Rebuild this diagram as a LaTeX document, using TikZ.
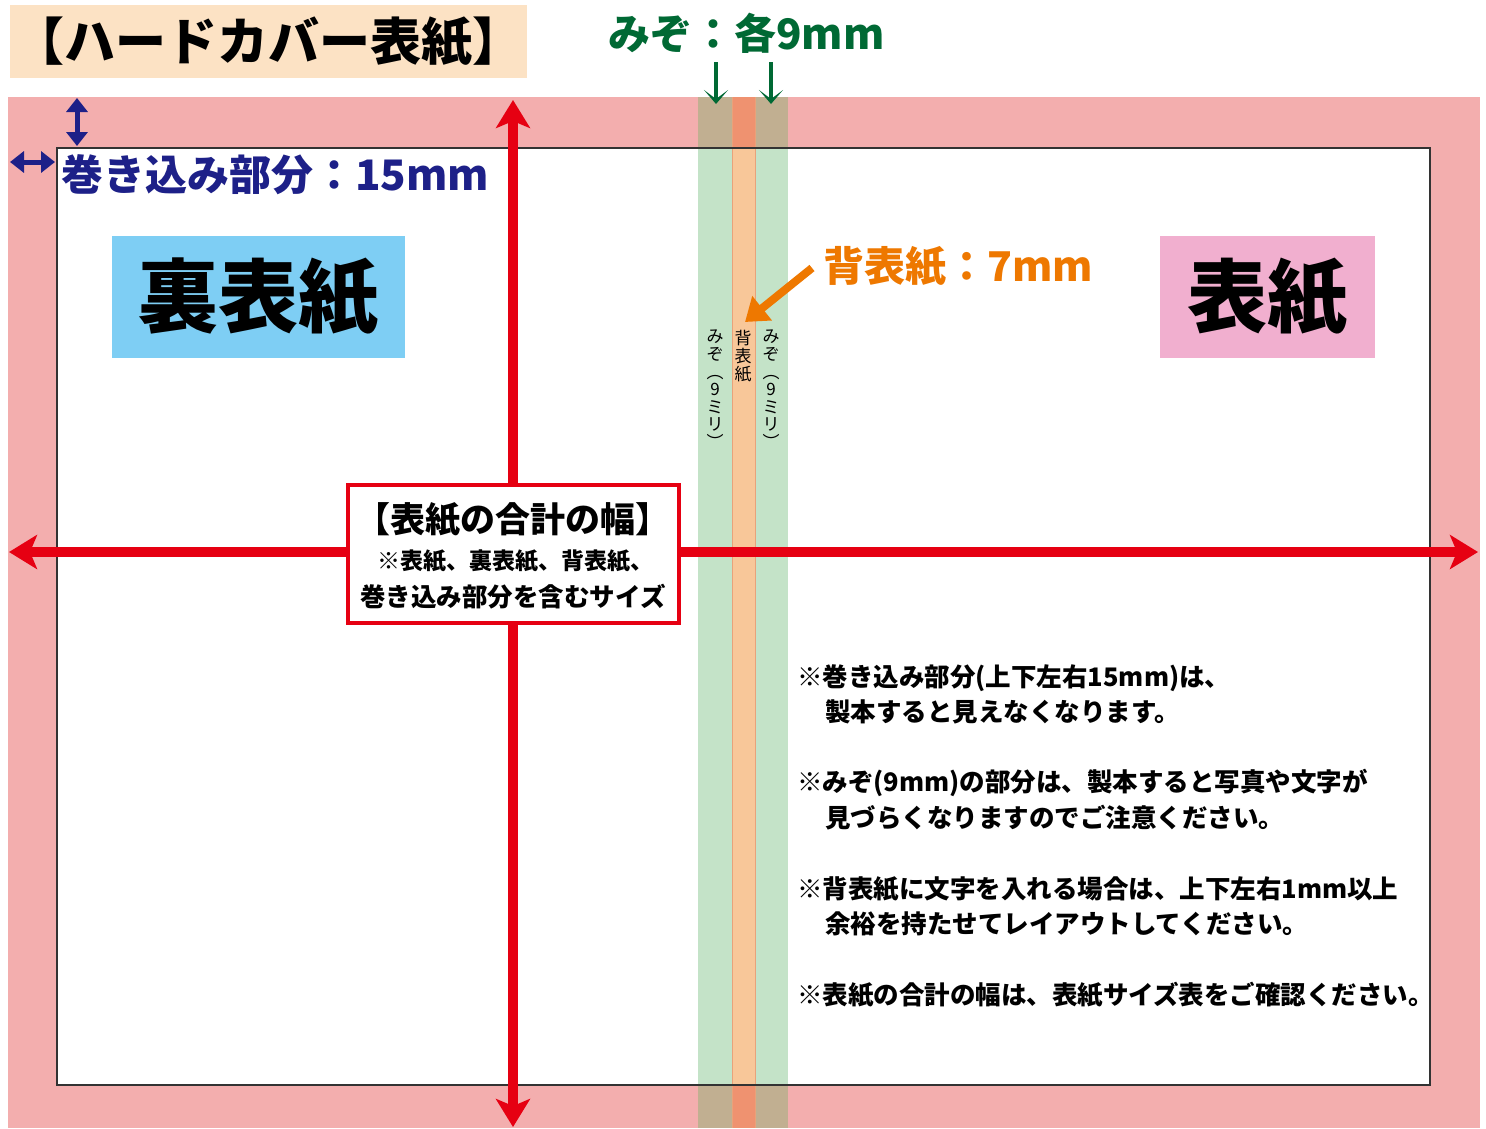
\documentclass[tikz,border=0pt]{standalone}
\usepackage{fontspec}
\newfontfamily\jp{Noto Sans CJK JP}
\usetikzlibrary{arrows.meta}
\definecolor{wrapc}{HTML}{F3AEAE}
\definecolor{mizoc}{HTML}{C4E3C8}
\definecolor{mizodark}{HTML}{C1AF91}
\definecolor{spinec}{HTML}{F8C799}
\definecolor{spinedark}{HTML}{EF9270}
\definecolor{spineedge}{HTML}{E9A27A}
\definecolor{redc}{HTML}{E60012}
\definecolor{navyc}{HTML}{1D2088}
\definecolor{greenc}{HTML}{006934}
\definecolor{orangec}{HTML}{EE7800}
\definecolor{bluebox}{HTML}{7ECEF4}
\definecolor{pinkbox}{HTML}{F1AFCF}
\definecolor{peach}{HTML}{FCE2C4}
\newcommand\jfs[1]{\fontsize{#1}{#1}\selectfont}
\tikzset{
  txt/.style={inner sep=0pt, font=\jp},
  redarrow/.style={draw=redc, line width=10pt, -{Stealth[length=28pt,width=34pt,inset=7pt]}},
  bluearrow/.style={draw=navyc, line width=5pt, {Triangle[length=14pt,width=21pt]}-{Triangle[length=14pt,width=21pt]}},
  greenarrow/.style={draw=greenc, line width=4pt, -{Stealth[length=14pt,width=24pt,inset=9pt]}},
  vtext/.style={txt, align=center, anchor=north},
  note/.style={txt, anchor=west, font=\jp\bfseries\jfs{25.5}},
}
\begin{document}
\begin{tikzpicture}[x=1pt,y=-1pt]
\useasboundingbox (0,0) rectangle (1486,1128);
% wrap area and page
\fill[wrapc] (8,97) rectangle (1480,1128);
\fill[white] (57,148) rectangle (1430,1085);
% gutters and spine
\fill[mizoc] (698,148) rectangle (732,1085);
\fill[mizoc] (755,148) rectangle (788,1085);
\fill[spinec] (732,148) rectangle (755,1085);
\fill[mizodark] (698,97) rectangle (732,148);
\fill[mizodark] (755,97) rectangle (788,148);
\fill[mizodark] (698,1085) rectangle (732,1128);
\fill[mizodark] (755,1085) rectangle (788,1128);
\fill[spinedark] (732,97) rectangle (755,148);
\fill[spinedark] (732,1085) rectangle (755,1128);
\draw[spineedge, line width=1pt] (732,97) -- (732,1128) (755,97) -- (755,1128);
\draw[black!80, line width=1.5pt] (57,148) rectangle (1430,1085);
% title
\node[txt, fill=peach, minimum width=517pt, minimum height=73pt, font=\jp\bfseries\jfs{51}] (title) at (268.5,41.5) {【ハードカバー表紙】};
% red arrows
\coordinate (rc) at (513,552);
\coordinate (rtop) at (513,100);
\coordinate (rbot) at (513,1127);
\coordinate (rleft) at (9,552);
\coordinate (rright) at (1478,552);
\draw[redarrow] (rc) -- (rtop);
\draw[redarrow] (rc) -- (rbot);
\draw[redarrow] (rc) -- (rleft);
\draw[redarrow] (rc) -- (rright);
% total width box
\node[txt, draw=redc, line width=4pt, fill=white, minimum width=331pt, minimum height=138pt] (sumbox) at (513.5,554) {};
\node[txt, font=\jp\bfseries\jfs{35}] (sum1) at (513,520) {【表紙の合計の幅】};
\node[txt, font=\jp\bfseries\jfs{23}] (sum2) at (515,561) {※表紙、裏表紙、背表紙、};
\node[txt, font=\jp\bfseries\jfs{25.5}] (sum3) at (513,597) {巻き込み部分を含むサイズ};
% wrap arrows
\coordinate (bv1) at (77,98);
\coordinate (bv2) at (77,146);
\coordinate (bh1) at (10,162);
\coordinate (bh2) at (55,162);
\draw[bluearrow] (bv1) -- (bv2);
\draw[bluearrow] (bh1) -- (bh2);
\node[txt, anchor=west, text=navyc, font=\jp\bfseries\jfs{42}] (wraplbl) at (61,175) {巻き込み部分：15mm};
% cover labels
\node[txt, fill=bluebox, minimum width=293pt, minimum height=122pt, font=\jp\bfseries\jfs{80}] (back) at (258.5,297) {裏表紙};
\node[txt, fill=pinkbox, minimum width=215pt, minimum height=122pt, font=\jp\bfseries\jfs{80}] (front) at (1267.5,297) {表紙};
% gutter label
\node[txt, anchor=west, text=greenc, font=\jp\bfseries\jfs{42}] (mizolbl) at (608,33) {みぞ：各9mm};
\coordinate (g1s) at (716,62);
\coordinate (g1e) at (716,104);
\coordinate (g2s) at (771,62);
\coordinate (g2e) at (771,104);
\draw[greenarrow] (g1s) -- (g1e);
\draw[greenarrow] (g2s) -- (g2e);
% spine label
\node[txt, anchor=west, text=orangec, font=\jp\bfseries\jfs{41}] (spinelbl) at (823,267) {背表紙：7mm};
\coordinate (os) at (812,268);
\coordinate (oe) at (745,322);
\draw[orangec, line width=8pt, -{Triangle[length=22pt,width=30pt]}] (os) -- (oe);
% vertical texts
\node[vtext, font=\jp\fontsize{17}{17.6}\selectfont] (v1) at (715,330) {み\\ぞ\\︵\\9\\ミ\\リ\\︶};
\node[vtext, font=\jp\fontsize{17}{17.6}\selectfont] (v3) at (771,330) {み\\ぞ\\︵\\9\\ミ\\リ\\︶};
\node[vtext, font=\jp\fontsize{17}{18}\selectfont] (v2) at (743,330) {背\\表\\紙};
% notes
\node[note] (n1a) at (797,678) {※巻き込み部分(上下左右15mm)は、};
\node[note] (n1b) at (825,712) {製本すると見えなくなります。};
\node[note] (n2a) at (797,783) {※みぞ(9mm)の部分は、製本すると写真や文字が};
\node[note] (n2b) at (825,818) {見づらくなりますのでご注意ください。};
\node[note] (n3a) at (797,889) {※背表紙に文字を入れる場合は、上下左右1mm以上};
\node[note] (n3b) at (825,924) {余裕を持たせてレイアウトしてください。};
\node[note] (n4a) at (797,995) {※表紙の合計の幅は、表紙サイズ表をご確認ください。};
\end{tikzpicture}
\end{document}
